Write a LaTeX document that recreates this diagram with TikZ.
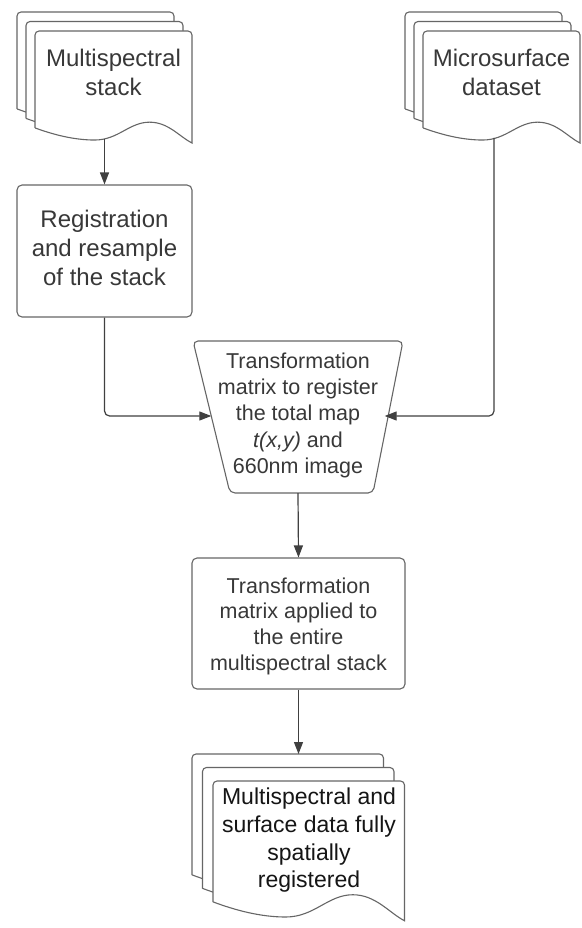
\documentclass[tikz,border=0pt]{standalone}
\usepackage{fontspec}
\setmainfont{Liberation Sans}
\usetikzlibrary{arrows.meta}
\definecolor{linec}{HTML}{666666}
\definecolor{connc}{HTML}{404040}
\definecolor{textc}{HTML}{383838}
\definecolor{textd}{HTML}{151515}
\tikzset{
  pagestyle/.style={draw=linec, fill=white, line width=1.1pt},
  boxstyle/.style={draw=linec, fill=white, rounded corners=5pt, line width=1.1pt, inner sep=0pt, align=center, text=textc},
  conn/.style={draw=connc, line width=1.2pt, -{Triangle[length=12pt,width=9pt]}, rounded corners=5pt},
  txt/.style={align=center, text=textc, inner sep=0pt},
}
\newcommand{\docpage}[4]{%
  \begin{scope}[shift={(#1,#2)}, xscale=#3, yscale=#4]
    \draw[pagestyle] (0,1) {[rounded corners=4pt] -- (0,0) -- (1,0)} -- (1,1.155)
      .. controls (0.92,1.09) and (0.85,0.94) .. (0.73,0.94)
      .. controls (0.6,0.94) and (0.53,1.124) .. (0.38,1.124)
      .. controls (0.25,1.124) and (0.12,1.07) .. cycle;
  \end{scope}}
\begin{document}
\begin{tikzpicture}[x=1pt,y=-1pt]
\path[use as bounding box, fill=white] (0,0) rectangle (581,928);

% document 1
\docpage{17}{12}{157}{97}
\docpage{26}{21.5}{157}{97}
\docpage{35}{31}{157}{97}
\node[txt, font=\fontsize{24}{29}\selectfont] (ms) at (113.5,75.7) {\strut Multispectral\\stack\strut};

% document 2
\docpage{405}{12}{157}{97}
\docpage{414}{21.5}{157}{97}
\docpage{423}{31}{157}{97}
\node[txt, font=\fontsize{24}{29}\selectfont] (mic) at (501.5,75.7) {\strut Microsurface\\dataset\strut};

% registration box
\node[boxstyle, minimum width=175pt, minimum height=132pt, font=\fontsize{24}{29}\selectfont] (reg) at (104.5,251) {\strut Registration\\and resample\\of the stack\strut};

% trapezoid
\draw[pagestyle, rounded corners=5pt] (193,341) -- (403,341) -- (373,493) -- (230,493) -- cycle;
\node[txt, font=\fontsize{21.5}{26.25}\selectfont] (tr) at (298,415.5) {\strut Transformation\\matrix to register\\the total map\\\textit{t(x,y)} and\\660nm image\strut};
\coordinate (trL) at (211.3,416);
\coordinate (trR) at (384.7,416);
\coordinate (trB) at (298,493);

% applied box
\node[boxstyle, minimum width=213pt, minimum height=131pt] (app) at (298.5,623.5) {};
\node[txt, font=\fontsize{21.5}{25.6}\selectfont] (appt) at (298.5,626.5) {\strut Transformation\\matrix applied to\\the entire\\multispectral stack\strut};

% document 3
\docpage{192}{754}{191.5}{121}
\docpage{202.5}{767.5}{191.5}{121}
\docpage{213}{781}{191.5}{121}
\node[txt, text=textd, font=\fontsize{23}{27.6}\selectfont] (fin) at (309,840.8) {\strut Multispectral and\\surface data fully\\spatially\\registered\strut};

% connectors
\coordinate (d1b) at (104.5,139);
\coordinate (d2b) at (494,138);
\coordinate (d3t) at (298.5,754);
\draw[conn] (d1b) -- (reg.north);
\draw[conn] (reg.south) |- (trL);
\draw[conn] (d2b) |- (trR);
\draw[conn] (trB) -- (app.north);
\draw[conn] (app.south) -- (d3t);
\end{tikzpicture}
\end{document}
